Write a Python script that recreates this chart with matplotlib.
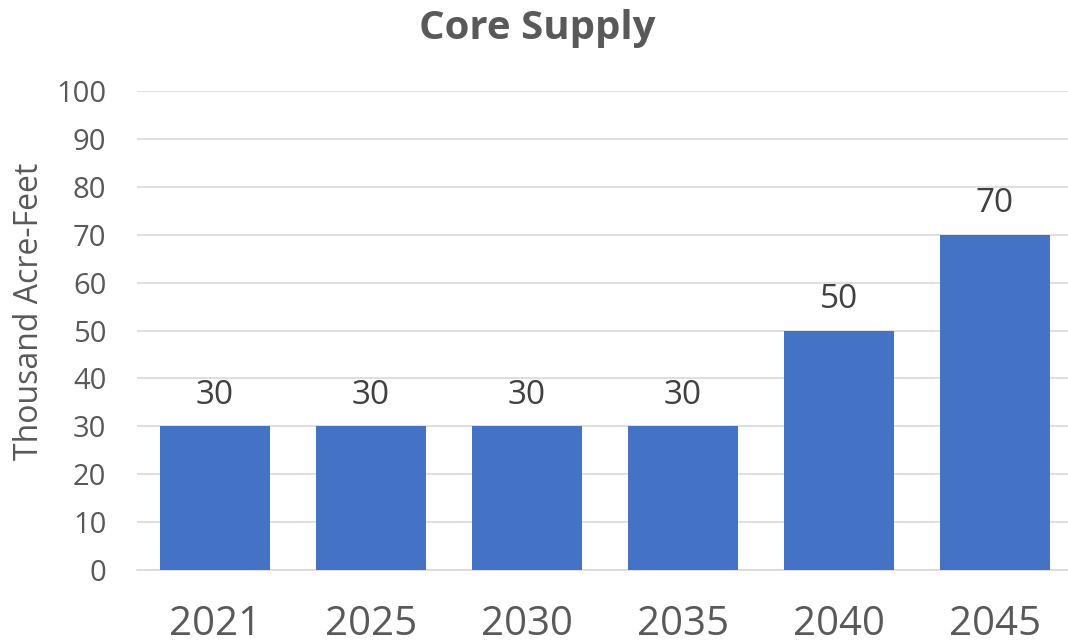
import matplotlib
matplotlib.use("Agg")
import matplotlib.pyplot as plt

years = ["2021", "2025", "2030", "2035", "2040", "2045"]
supply = [30, 30, 30, 30, 50, 70]
yticks = [0, 10, 20, 30, 40, 50, 60, 70, 80, 90, 100]

plt.rcParams['font.family'] = ['Open Sans', 'DejaVu Sans']
txt = '#595959'

fig = plt.figure(figsize=(10.68, 6.41), dpi=100)
ax = fig.add_axes([137/1068, (641-570)/641, (1073-137)/1068, (570-91)/641])

x = range(len(years))
bars = ax.bar(x, supply, width=0.70, color='#4472C4', zorder=3)
for xi, v in zip(x, supply):
    ax.text(xi, v + 3, str(v), ha='center', va='bottom', fontsize=24, color='#404040')

ax.set_xlim(-0.5, 5.5)
ax.set_ylim(0, 100)
ax.set_yticks(yticks)
ax.set_xticks(list(x))
ax.set_xticklabels(years, fontsize=29, color=txt)
ax.tick_params(axis='y', labelsize=21, labelcolor=txt, length=0, pad=22)
ax.tick_params(axis='x', length=0, pad=25)
ax.grid(axis='y', color='#D9D9D9', linewidth=1.2, zorder=0)
for s in ['top', 'right', 'left']:
    ax.spines[s].set_visible(False)
ax.spines['bottom'].set_color('#D9D9D9')
ax.spines['bottom'].set_linewidth(1.2)

ax.set_ylabel('Thousand Acre-Feet', fontsize=23, color=txt)
ax.yaxis.set_label_coords(-0.097, 0.54)
fig.text(0.503, 0.955, 'Core Supply', ha='center', va='center',
         fontsize=29, fontweight='bold', color=txt)

fig.savefig('out.png', dpi=100)
